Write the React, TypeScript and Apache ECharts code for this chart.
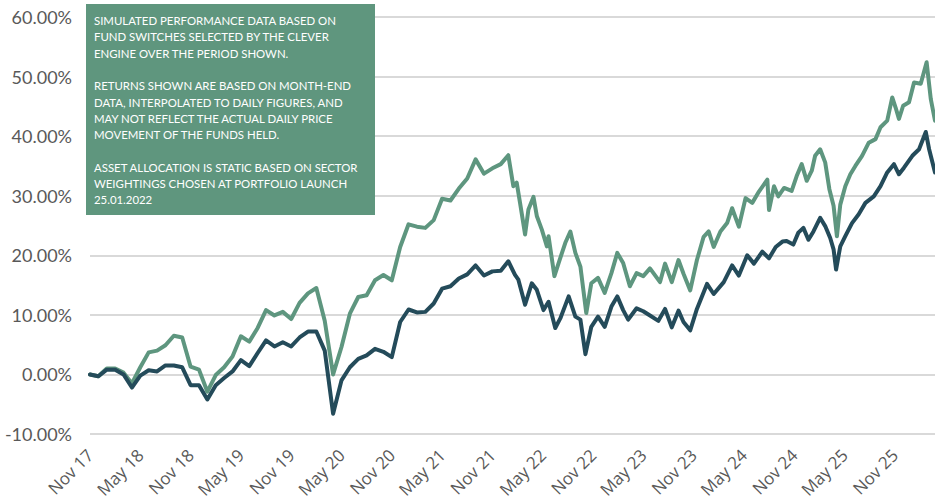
import React, { useEffect, useRef } from "react";
import * as echarts from "echarts";

// x positions are months since Nov 2017
const tickLabels = [
  "Nov 17", "May 18", "Nov 18", "May 19", "Nov 19", "May 20", "Nov 20", "May 21", "Nov 21",
  "May 22", "Nov 22", "May 23", "Nov 23", "May 24", "Nov 24", "May 25", "Nov 25",
];

const yTickValues = [-10, 0, 10, 20, 30, 40, 50, 60];

const greenMonths = [
  0, 1, 2, 3, 4, 5, 6, 7, 8, 9, 10, 11, 12, 13, 14, 15, 16, 17, 18, 19, 20, 21, 22, 23, 24, 25, 26, 27,
  28, 29, 30, 31, 32, 33, 34, 35, 36, 37, 38, 39, 40, 41, 42, 43, 44, 45, 46, 47, 48, 49, 49.9,
  50.5, 50.9, 51.3, 51.9, 52.3, 52.9, 53.3, 53.9, 54.5, 54.7, 55.4, 55.9, 56.7, 57.3, 57.9, 58.5,
  59.2, 59.8, 60.6, 61.4, 62.2, 62.9, 63.6, 64.4, 65.2, 66.0, 66.8, 68.0, 68.6, 69.4, 70.2, 70.8,
  71.6, 72.4, 73.2, 73.8, 74.4, 75.2, 76.0, 76.6, 77.4, 78.2, 79.0, 79.8, 80.8, 81.0, 81.6, 82.1,
  82.8, 83.7, 84.3, 84.9, 85.5, 86.1, 86.5, 87.1, 87.7, 88.2, 88.7, 89.1, 89.5, 90.1, 90.7, 91.3,
  92.1, 92.9, 93.7, 94.3, 95.1, 95.7, 96.1, 96.5, 97.0, 97.7, 98.3, 99.1, 99.8, 100.3, 100.8,
];
const greenValues = [
  0, -0.3, 1.0, 1.0, 0.3, -1.5, 1.2, 3.7, 4.0, 4.9, 6.5, 6.2, 1.3, 0.8, -2.9, -0.1, 1.2, 3.0, 6.4, 5.5, 7.8, 10.8, 9.9, 10.5, 9.3, 12.0, 13.6, 14.5,
  9.0, 0.0, 4.6, 10.2, 13.0, 13.3, 15.8, 16.7, 15.8, 21.4, 25.2, 24.8, 24.6, 25.9, 29.5, 29.2, 31.2, 32.9, 36.1, 33.7, 34.6, 35.3, 36.8,
  31.6, 32.2, 28.8, 23.5, 27.7, 29.8, 26.6, 24.3, 21.5, 23.2, 16.5, 18.7, 22.1, 24.0, 20.4, 18.1,
  10.3, 15.3, 16.2, 13.7, 17.0, 20.4, 18.7, 14.8, 17.0, 16.5, 17.8, 15.5, 18.6, 15.5, 19.2, 16.9,
  14.1, 19.2, 23.1, 24.0, 21.4, 24.0, 25.4, 27.9, 24.8, 29.6, 28.8, 30.7, 32.7, 27.6, 31.6, 29.9,
  31.3, 30.8, 33.3, 35.3, 32.5, 34.2, 36.7, 37.8, 35.6, 31.1, 28.3, 23.2, 28.5, 31.6, 33.6, 35.0,
  36.7, 38.9, 39.5, 41.5, 42.6, 46.5, 44.8, 42.9, 45.1, 45.7, 49.0, 48.8, 52.4, 46.2, 42.6,
];

const darkMonths = [
  0, 1, 2, 3, 4, 5, 6, 7, 8, 9, 10, 11, 12, 13, 14, 15, 16, 17, 18, 19, 20, 21, 22, 23, 24, 25, 26, 27,
  28, 29, 30, 31, 32, 33, 34, 35, 36, 37, 38, 39, 40, 41, 42, 43, 44, 45, 46, 47, 48, 49, 49.9,
  50.7, 51.1, 51.9, 52.7, 53.3, 54.1, 54.7, 55.5, 56.1, 57.1, 57.9, 58.5, 59.1, 59.8, 60.6, 61.4,
  62.2, 62.9, 63.6, 64.2, 65.2, 66.0, 66.8, 67.8, 68.6, 69.4, 70.2, 70.8, 71.6, 72.4, 73.6, 74.4,
  75.6, 76.6, 77.4, 78.4, 79.2, 80.2, 81.0, 81.8, 82.6, 83.1, 83.9, 84.5, 85.1, 85.7, 86.3, 87.1,
  87.7, 88.3, 88.7, 89.0, 89.5, 90.1, 90.9, 91.7, 92.5, 93.5, 94.3, 95.1, 95.9, 96.5, 97.1, 98.1,
  98.9, 99.7, 100.1, 100.8,
];
const darkValues = [
  0, -0.3, 0.8, 0.8, 0, -2.2, -0.2, 0.7, 0.5, 1.5, 1.5, 1.2, -1.8, -1.8, -4.2, -1.8, -0.6, 0.5, 2.4, 1.4, 3.6, 5.7, 4.7, 5.4, 4.7, 6.2, 7.2, 7.2,
  4.0, -6.6, -1.0, 1.2, 2.6, 3.2, 4.3, 3.8, 2.9, 8.8, 10.9, 10.4, 10.5, 11.9, 14.4, 14.8, 16.1, 16.8, 18.3, 16.6, 17.3, 17.4, 19.0,
  16.7, 15.9, 11.7, 15.3, 14.2, 10.8, 12.2, 7.8, 9.4, 13.1, 9.7, 9.2, 3.4, 8.0, 9.7, 8.0,
  11.4, 13.1, 10.8, 9.2, 11.1, 10.6, 9.9, 9.0, 11.0, 7.9, 10.7, 8.8, 7.4, 11.0, 15.2, 13.5,
  15.5, 18.3, 16.6, 20.0, 18.6, 20.6, 19.5, 21.4, 22.3, 22.4, 21.8, 23.8, 24.6, 22.6, 24.0, 26.3,
  24.9, 22.9, 21.0, 17.6, 21.5, 23.2, 25.4, 26.9, 28.8, 29.9, 31.6, 33.9, 35.3, 33.6, 34.7, 36.7,
  37.8, 40.7, 37.8, 33.9,
];

const noteLines = [
  "SIMULATED PERFORMANCE DATA BASED ON",
  "FUND SWITCHES SELECTED BY THE CLEVER",
  "ENGINE OVER THE PERIOD SHOWN.",
  "",
  "RETURNS SHOWN ARE BASED ON MONTH-END",
  "DATA, INTERPOLATED TO DAILY FIGURES, AND",
  "MAY NOT REFLECT THE ACTUAL DAILY PRICE",
  "MOVEMENT OF THE FUNDS HELD.",
  "",
  "ASSET ALLOCATION IS STATIC BASED ON SECTOR",
  "WEIGHTINGS CHOSEN AT PORTFOLIO LAUNCH",
  "25.01.2022",
];

const GREEN = "#5e967f";
const DARK = "#244b5a";

export default function App() {
  const ref = useRef<HTMLDivElement>(null);

  useEffect(() => {
    if (!ref.current) return;
    const chart = echarts.init(ref.current, null, { renderer: "svg" });
    chart.setOption({
      animation: false,
      backgroundColor: "#ffffff",
      grid: { left: 90, right: 0, top: 17, bottom: 67, containLabel: false },
      xAxis: {
        type: "value",
        min: 0,
        max: 100.8,
        interval: 6,
        axisLine: { show: false },
        axisTick: { show: false },
        splitLine: { show: false },
        axisLabel: {
          rotate: 45,
          margin: 18,
          color: "#595959",
          fontSize: 17,
          fontFamily: "Open Sans",
          showMaxLabel: false,
          formatter: (v: number) => {
            const i = Math.round(v / 6);
            return Math.abs(v - i * 6) < 1e-6 && tickLabels[i] ? tickLabels[i] : "";
          },
        },
      },
      yAxis: {
        type: "value",
        min: yTickValues[0],
        max: yTickValues[yTickValues.length - 1],
        interval: 10,
        axisLine: { show: false },
        axisTick: { show: false },
        splitLine: { lineStyle: { color: "#d9d9d9", width: 2 } },
        axisLabel: {
          margin: 18,
          color: "#595959",
          fontSize: 18,
          fontFamily: "Lato",
          formatter: (v: number) => `${v.toFixed(2)}%`,
        },
      },
      series: [
        {
          type: "line",
          name: "Green",
          showSymbol: false,
          data: greenMonths.map((m, i) => [m, greenValues[i]]),
          lineStyle: { color: GREEN, width: 4, join: "round", cap: "round" },
          itemStyle: { color: GREEN },
          z: 2,
        },
        {
          type: "line",
          name: "Dark",
          showSymbol: false,
          data: darkMonths.map((m, i) => [m, darkValues[i]]),
          lineStyle: { color: DARK, width: 4, join: "round", cap: "round" },
          itemStyle: { color: DARK },
          z: 3,
        },
      ],
      graphic: [
        {
          type: "rect",
          shape: { x: 86, y: 4, width: 289, height: 211 },
          style: { fill: "#5f967e" },
          z: 10,
        },
        {
          type: "text",
          x: 94,
          y: 12.5,
          z: 11,
          style: {
            text: noteLines.join("\n"),
            fill: "#ffffff",
            fontSize: 11.4,
            fontFamily: "Lato",
            lineHeight: 16.3,
            textVerticalAlign: "top",
          },
        },
      ],
    });
    return () => chart.dispose();
  }, []);

  return (
    <div
      ref={ref}
      style={{ position: "absolute", left: 0, top: 0, width: 935, height: 501 }}
    />
  );
}
